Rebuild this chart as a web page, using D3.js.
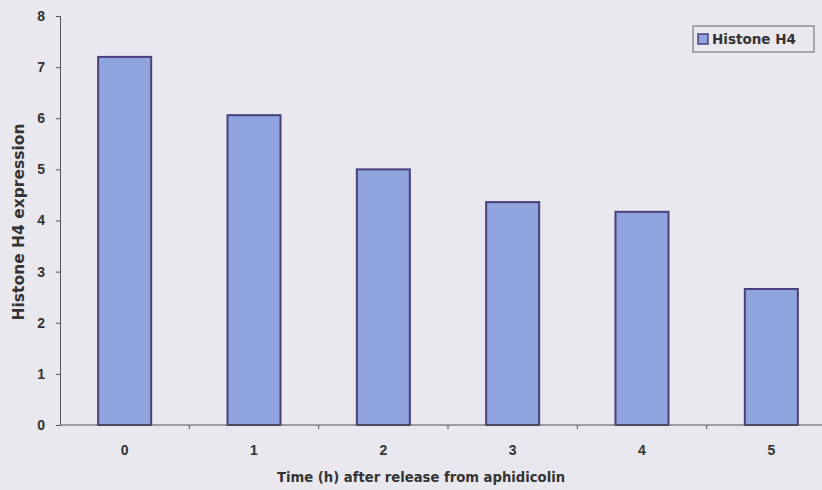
<!DOCTYPE html>
<html>
<head>
<meta charset="utf-8">
<script src="https://cdn.jsdelivr.net/npm/d3@7"></script>
<style>
  body { margin: 0; background: #e9e8ef; }
  svg { display: block; font-family: "DejaVu Sans", Verdana, sans-serif; }
</style>
</head>
<body>
<svg id="fig" width="822" height="490"></svg>
<script>
// data
const hours = ["0", "1", "2", "3", "4", "5"];
const h4Values = [7.2, 6.06, 5.0, 4.36, 4.17, 2.66];
const yTicks = [0, 1, 2, 3, 4, 5, 6, 7, 8];
const seriesName = "Histone H4";

const svg = d3.select("#fig");
const plotLeft = 60, plotRight = 836, plotTop = 16, plotBottom = 425;

let xScale = d3.scaleBand()
    .domain(hours)
    .range([plotLeft, plotRight])
    .padding(0);

let yScale = d3.scaleLinear()
    .domain([0, 8])
    .range([plotBottom, plotTop]);

const barW = xScale.bandwidth() * 0.41;

// bars
svg.append("g")
    .selectAll("rect")
    .data(hours)
    .join("rect")
    .attr("x", (d) => xScale(d) + xScale.bandwidth() / 2 - barW / 2)
    .attr("y", (d, i) => yScale(h4Values[i]))
    .attr("width", barW)
    .attr("height", (d, i) => plotBottom - yScale(h4Values[i]))
    .attr("fill", "#8fa3dc")
    .attr("stroke", "#4b3f7c")
    .attr("stroke-width", 2);

// y axis
const yAxis = svg.append("g")
    .attr("transform", `translate(${plotLeft},0)`)
    .call(d3.axisLeft(yScale).tickValues(yTicks).tickSize(4).tickPadding(11).tickFormat(d3.format("d")));
yAxis.select(".domain").attr("stroke", "#555");
yAxis.selectAll(".tick line").attr("stroke", "#555");
yAxis.selectAll("text")
    .attr("font-size", 14)
    .attr("font-weight", "bold")
    .attr("font-family", "Liberation Sans, Arial, sans-serif")
    .attr("fill", "#333");

// x axis: line, ticks between categories, labels centered
const xg = svg.append("g");
xg.append("line")
    .attr("x1", plotLeft).attr("x2", plotRight)
    .attr("y1", plotBottom).attr("y2", plotBottom)
    .attr("stroke", "#555");
xg.selectAll(".sep")
    .data(hours.slice(1))
    .join("line")
    .attr("x1", (d) => xScale(d)).attr("x2", (d) => xScale(d))
    .attr("y1", plotBottom).attr("y2", plotBottom + 4)
    .attr("stroke", "#555");
xg.selectAll(".lbl")
    .data(hours)
    .join("text")
    .attr("x", (d) => xScale(d) + xScale.bandwidth() / 2)
    .attr("y", plotBottom + 30)
    .attr("text-anchor", "middle")
    .attr("font-size", 14)
    .attr("font-weight", "bold")
    .attr("font-family", "Liberation Sans, Arial, sans-serif")
    .attr("fill", "#333")
    .text((d) => d);

// axis titles
svg.append("text")
    .attr("x", 421).attr("y", 482)
    .attr("text-anchor", "middle")
    .attr("font-size", 13.2)
    .attr("font-weight", "bold")
    .attr("fill", "#333")
    .text("Time (h) after release from aphidicolin");

svg.append("text")
    .attr("transform", "translate(24,222) rotate(-90)")
    .attr("text-anchor", "middle")
    .attr("font-size", 15.5)
    .attr("font-weight", "bold")
    .attr("fill", "#333")
    .text("Histone H4 expression");

// legend
const lg = svg.append("g").attr("transform", "translate(693,26)");
lg.append("rect")
    .attr("width", 121).attr("height", 26)
    .attr("fill", "none")
    .attr("stroke", "#666");
lg.append("rect")
    .attr("x", 5).attr("y", 8)
    .attr("width", 10).attr("height", 10)
    .attr("fill", "#8fa3dc")
    .attr("stroke", "#4b3f7c")
    .attr("stroke-width", 1.5);
lg.append("text")
    .attr("x", 19).attr("y", 18)
    .attr("font-size", 13.5)
    .attr("font-weight", "bold")
    .attr("fill", "#333")
    .text(seriesName);
</script>
</body>
</html>
